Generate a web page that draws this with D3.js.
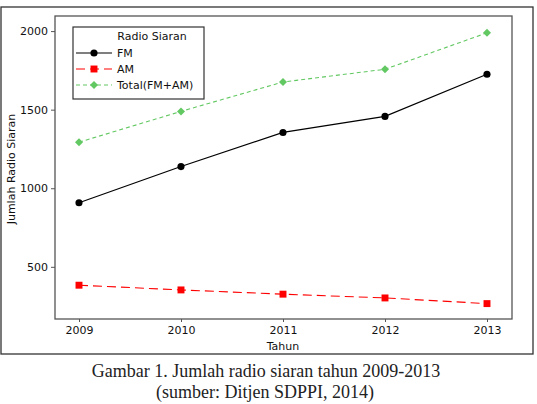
<html>
<head>
<meta charset="utf-8">
<script src="https://d3js.org/d3.v7.min.js"></script>
<style>
body { margin: 0; background: #fff; }
</style>
</head>
<body>
<div id="stuff"><svg width="537" height="404"></svg></div>
<script>
var years = [2009, 2010, 2011, 2012, 2013];
var fmValues = [908, 1138, 1355, 1457, 1725];
var amValues = [383, 353, 326, 302, 266];
var totalValues = [1293, 1489, 1676, 1757, 1989];
var yTicks = [500, 1000, 1500, 2000];
var seriesNames = ["FM", "AM", "Total(FM+AM)"];

var svg = d3.select("#stuff").select("svg");
var chartFont = "DejaVu Sans, Verdana, sans-serif";
var green = "rgb(98,200,98)";

// plot area
var plotLeft = 55, plotTop = 16, plotRight = 512, plotBottom = 319;

var x = d3.scalePoint().domain(years).range([79, 487]);
var y = d3.scaleLinear().domain([168, 2096]).range([plotBottom, plotTop]);

// outer frame
svg.append("rect")
	.attr("x", 1).attr("y", 7)
	.attr("width", 532).attr("height", 347)
	.attr("fill", "none")
	.attr("stroke", "#333")
	.attr("stroke-width", 1.3);

// plot frame
svg.append("rect")
	.attr("x", plotLeft).attr("y", plotTop)
	.attr("width", plotRight - plotLeft).attr("height", plotBottom - plotTop)
	.attr("fill", "none")
	.attr("stroke", "#555")
	.attr("stroke-width", 1.3);

// axes
var xAxis = svg.append("g")
	.attr("transform", "translate(0," + plotBottom + ")")
	.call(d3.axisBottom(x).tickSize(3).tickPadding(4).tickFormat(d3.format("d")));
var yAxis = svg.append("g")
	.attr("transform", "translate(" + plotLeft + ",0)")
	.call(d3.axisLeft(y).tickValues(yTicks).tickSize(4).tickPadding(3).tickFormat(d3.format("d")));
[xAxis, yAxis].forEach(function(a){
	a.select(".domain").remove();
	a.selectAll("line").attr("stroke", "#555");
	a.selectAll("text")
		.attr("font-family", chartFont)
		.attr("font-size", "11px")
		.attr("fill", "#111");
});

// axis titles
svg.append("text")
	.attr("x", x(2011)).attr("y", 350)
	.attr("text-anchor", "middle")
	.attr("font-family", chartFont).attr("font-size", "11px")
	.attr("fill", "#111")
	.text("Tahun");
svg.append("text")
	.attr("transform", "translate(15,169) rotate(-90)")
	.attr("text-anchor", "middle")
	.attr("font-family", chartFont).attr("font-size", "11px")
	.attr("fill", "#111")
	.text("Jumlah Radio Siaran");

var line = d3.line()
	.x(function(d, i){ return x(years[i]); })
	.y(function(d){ return y(d); });

var series = [
	{ name: seriesNames[0], values: fmValues, color: "#000", dash: null, width: 1.2, symbol: d3.symbolCircle, size: 40, rot: 0 },
	{ name: seriesNames[1], values: amValues, color: "#ff0000", dash: "9,5", width: 1.1, symbol: d3.symbolSquare, size: 48, rot: 0 },
	{ name: seriesNames[2], values: totalValues, color: green, dash: "4,3", width: 1.1, symbol: d3.symbolSquare, size: 32, rot: 45 }
];

series.forEach(function(s){
	svg.append("path")
		.datum(s.values)
		.attr("d", line)
		.attr("fill", "none")
		.attr("stroke", s.color)
		.attr("stroke-width", s.width)
		.attr("stroke-dasharray", s.dash);
	svg.selectAll(null)
		.data(s.values)
		.enter().append("path")
		.attr("transform", function(d, i){ return "translate(" + x(years[i]) + "," + y(d) + ") rotate(" + s.rot + ")"; })
		.attr("d", d3.symbol().type(s.symbol).size(s.size))
		.attr("fill", s.color);
});

// legend
var legend = svg.append("g");
legend.append("rect")
	.attr("x", 73).attr("y", 27)
	.attr("width", 131).attr("height", 72)
	.attr("fill", "#fff")
	.attr("stroke", "#333")
	.attr("stroke-width", 1.2);
legend.append("text")
	.attr("x", 152).attr("y", 40)
	.attr("text-anchor", "middle")
	.attr("font-family", chartFont).attr("font-size", "11px")
	.attr("fill", "#111")
	.text("Radio Siaran");
series.forEach(function(s, i){
	var ly = 53 + i * 16;
	legend.append("line")
		.attr("x1", 76).attr("x2", 112)
		.attr("y1", ly).attr("y2", ly)
		.attr("stroke", s.color)
		.attr("stroke-width", s.width)
		.attr("stroke-dasharray", s.dash);
	legend.append("path")
		.attr("transform", "translate(94," + ly + ") rotate(" + s.rot + ")")
		.attr("d", d3.symbol().type(s.symbol).size(s.size))
		.attr("fill", s.color);
	legend.append("text")
		.attr("x", 117).attr("y", ly + 4)
		.attr("font-family", chartFont).attr("font-size", "11px")
		.attr("fill", "#111")
		.text(s.name);
});

// caption
svg.append("text")
	.attr("x", 266).attr("y", 377)
	.attr("text-anchor", "middle")
	.attr("font-family", "Liberation Serif, Times New Roman, serif")
	.attr("font-size", "18px")
	.attr("fill", "#222")
	.text("Gambar 1. Jumlah radio siaran tahun 2009-2013");
svg.append("text")
	.attr("x", 265).attr("y", 398)
	.attr("text-anchor", "middle")
	.attr("font-family", "Liberation Serif, Times New Roman, serif")
	.attr("font-size", "18px")
	.attr("fill", "#222")
	.text("(sumber: Ditjen SDPPI, 2014)");
</script>
</body>
</html>
